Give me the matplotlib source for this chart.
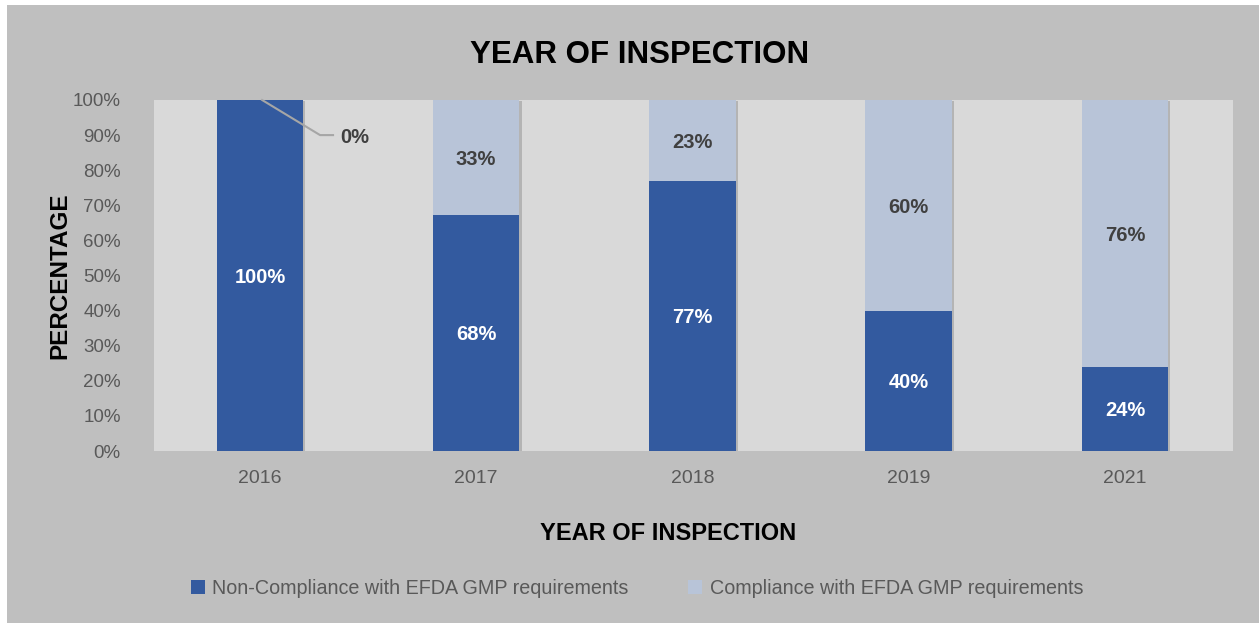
import matplotlib.pyplot as plt
import matplotlib.patheffects as pe
from matplotlib.patches import Patch, Rectangle
import numpy as np

plt.rcParams['font.family'] = ['Liberation Sans', 'DejaVu Sans']

years = ['2016', '2017', '2018', '2019', '2021']
non_compliance = [100, 68, 77, 40, 24]
compliance = [0, 33, 23, 60, 76]

dark = '#335a9f'
light = '#b8c4d8'
outer_bg = '#bfbfbf'
plot_bg = '#d9d9d9'
tick_color = '#595959'

# 100% stacked: each year scaled to its own total
nc = np.array(non_compliance, dtype=float)
co = np.array(compliance, dtype=float)
total = nc + co
nc_share = nc / total
co_share = co / total
x = np.arange(len(years))

fig = plt.figure(figsize=(12.59, 6.23), dpi=100, facecolor='white')
fig.patches.append(Rectangle((7 / 1259, 0), 1, 1 - 5 / 623, transform=fig.transFigure,
                             facecolor=outer_bg, edgecolor='none', zorder=-10))
ax = fig.add_axes([154 / 1259, 1 - 451 / 623, (1233 - 154) / 1259, 351 / 623])
ax.set_facecolor(plot_bg)

shadow = [pe.SimplePatchShadow(offset=(1.5, -0.5), shadow_rgbFace='#6f6f6f', alpha=0.35), pe.Normal()]
b1 = ax.bar(x, nc_share, width=0.40, color=dark, zorder=3, path_effects=shadow)
b2 = ax.bar(x, co_share, width=0.40, bottom=nc_share, color=light, zorder=3, path_effects=shadow)

ax.set_xlim(-0.49, 4.5)
ax.set_ylim(0, 1)
ax.set_yticks(np.arange(0, 1.01, 0.1))
ax.set_yticklabels([f'{int(round(v * 100))}%' for v in np.arange(0, 1.01, 0.1)])
ax.set_xticks(x)
ax.set_xticklabels(years)
ax.tick_params(length=0, colors=tick_color)
ax.tick_params(axis='y', labelsize=13.5, pad=24)
ax.tick_params(axis='x', labelsize=14, pad=14)
for s in ax.spines.values():
    s.set_visible(False)

# segment labels
for i in range(len(years)):
    if nc[i] > 0:
        ax.text(x[i], nc_share[i] / 2, f'{non_compliance[i]}%', ha='center',
                va='center_baseline', color='white', fontsize=14.5, fontweight='bold', zorder=5)
    if co[i] > 0:
        ax.text(x[i], nc_share[i] + co_share[i] / 2, f'{compliance[i]}%', ha='center',
                va='center_baseline', color='#404040', fontsize=14.5, fontweight='bold', zorder=5)

# the zero share of 2016 gets a label pulled out with a leader line
top = nc_share[0] + co_share[0]
ax.plot([x[0] + 0.01, x[0] + 0.278, x[0] + 0.338], [top, 0.90, 0.90],
        color='#a6a6a6', lw=1.5, zorder=4, clip_on=False)
ax.text(x[0] + 0.37, 0.893, f'{compliance[0]}%', ha='left', va='center',
        color='#404040', fontsize=14.5, fontweight='bold', zorder=5)

fig.text(640 / 1259, 1 - 55 / 623, 'YEAR OF INSPECTION', ha='center', va='center',
         fontsize=22.5, fontweight='bold', color='black')
fig.text(668 / 1259, 1 - 533 / 623, 'YEAR OF INSPECTION', ha='center', va='center',
         fontsize=17, fontweight='bold', color='black')
fig.text(60 / 1259, 1 - 276 / 623, 'PERCENTAGE', ha='center', va='center', rotation=90,
         fontsize=17.5, fontweight='bold', color='black')

handles = [Patch(facecolor=dark), Patch(facecolor=light)]
fig.legend(handles, ['Non-Compliance with EFDA GMP requirements',
                     'Compliance with EFDA GMP requirements'],
           loc='center', bbox_to_anchor=(637 / 1259, 1 - 588 / 623), ncol=2, frameon=False,
           fontsize=14.2, labelcolor=tick_color, handlelength=0.7, handleheight=0.7,
           handletextpad=0.4, columnspacing=3.0)

fig.savefig('out.png', dpi=100, facecolor=fig.get_facecolor())
